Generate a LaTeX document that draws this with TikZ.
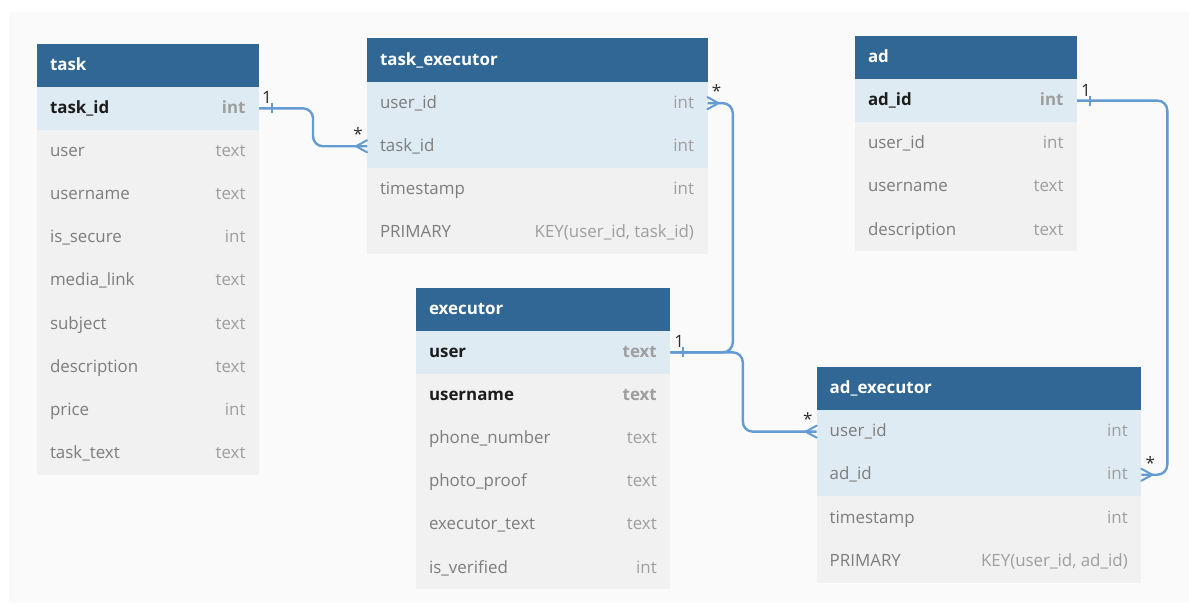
\documentclass[tikz,border=0pt]{standalone}
\usepackage{fontspec}
\setmainfont{Open Sans}
\definecolor{hdrblue}{RGB}{49,103,148}
\definecolor{keyblue}{RGB}{222,235,243}
\definecolor{rowgray}{RGB}{241,241,241}
\definecolor{canvas}{RGB}{250,250,250}
\definecolor{relblue}{RGB}{99,155,210}
\definecolor{pkblack}{RGB}{28,28,28}
\definecolor{namegray}{RGB}{125,125,125}
\definecolor{typegray}{RGB}{158,158,158}
\definecolor{cardgray}{RGB}{45,45,45}
\newcommand\fieldfont{\fontsize{16.9}{20}\selectfont}
\tikzset{
  every node/.style={inner sep=0pt, outer sep=0pt},
  hdr/.style={fill=hdrblue, minimum height=43.3pt},
  keyrow/.style={fill=keyblue, minimum height=43.1pt},
  plainrow/.style={fill=rowgray, minimum height=43.1pt},
  hdrtext/.style={text=white, font=\fieldfont\bfseries, anchor=mid west},
  pkname/.style={text=pkblack, font=\fieldfont\bfseries, anchor=mid west},
  pktype/.style={text=typegray, font=\fieldfont\bfseries, anchor=mid east},
  plname/.style={text=namegray, font=\fieldfont, anchor=mid west},
  pltype/.style={text=typegray, font=\fieldfont, anchor=mid east},
  rel/.style={draw=relblue, line width=2.4pt},
  relfoot/.style={draw=relblue, line width=2pt, line cap=round, line join=round},
  card/.style={text=cardgray, font=\fontsize{17}{20}\selectfont},
}
% table header: node, x, y, width, title
\newcommand\ehead[5]{%
  \node[hdr, minimum width=#4, anchor=north west] (#1) at (#2,#3) {};
  \node[hdrtext] (#1-n) at ([xshift=13pt,yshift=-2.5pt]#1.west) {#5};}
% table row: node, node above, width, fill style, text kind (pk/pl), field, type
\newcommand\erow[7]{%
  \node[#4, minimum width=#3, anchor=north west] (#1) at (#2.south west) {};
  \node[#5name] (#1-n) at ([xshift=13pt,yshift=-2.5pt]#1.west) {#6};
  \node[#5type] (#1-t) at ([xshift=-13.5pt,yshift=-2.5pt]#1.east) {#7};}
% "many" end touching a west or an east side
\newcommand\crowW[1]{\draw[relfoot] ([yshift=6pt]#1) -- ([xshift=-11pt]#1) -- ([yshift=-6pt]#1);}
\newcommand\crowE[1]{\draw[relfoot] ([yshift=6pt]#1) -- ([xshift=11pt]#1) -- ([yshift=-6pt]#1);}
% "one" end bar on an east side
\newcommand\onebar[1]{\draw[relfoot, line cap=butt] ([xshift=12.5pt,yshift=5pt]#1) -- ([xshift=12.5pt,yshift=-5pt]#1);}
\begin{document}
\begin{tikzpicture}[x=1pt, y=-1pt]
\useasboundingbox (0,0) rectangle (1189,603);
\fill[white] (0,0) rectangle (1189,603);
\fill[canvas] (9,12) rectangle (1189,603);

% task
\ehead{task}{37}{43.5}{222pt}{task}
\erow{task-1}{task}{222pt}{keyrow}{pk}{task\_id}{int}
\erow{task-2}{task-1}{222pt}{plainrow}{pl}{user}{text}
\erow{task-3}{task-2}{222pt}{plainrow}{pl}{username}{text}
\erow{task-4}{task-3}{222pt}{plainrow}{pl}{is\_secure}{int}
\erow{task-5}{task-4}{222pt}{plainrow}{pl}{media\_link}{text}
\erow{task-6}{task-5}{222pt}{plainrow}{pl}{subject}{text}
\erow{task-7}{task-6}{222pt}{plainrow}{pl}{description}{text}
\erow{task-8}{task-7}{222pt}{plainrow}{pl}{price}{int}
\erow{task-9}{task-8}{222pt}{plainrow}{pl}{task\_text}{text}

% task_executor
\ehead{te}{367}{38.3}{340.5pt}{task\_executor}
\erow{te-1}{te}{340.5pt}{keyrow}{pl}{user\_id}{int}
\erow{te-2}{te-1}{340.5pt}{keyrow}{pl}{task\_id}{int}
\erow{te-3}{te-2}{340.5pt}{plainrow}{pl}{timestamp}{int}
\erow{te-4}{te-3}{340.5pt}{plainrow}{pl}{PRIMARY}{KEY(user\_id, task\_id)}

% ad
\ehead{ad}{855}{35.7}{222pt}{ad}
\erow{ad-1}{ad}{222pt}{keyrow}{pk}{ad\_id}{int}
\erow{ad-2}{ad-1}{222pt}{plainrow}{pl}{user\_id}{int}
\erow{ad-3}{ad-2}{222pt}{plainrow}{pl}{username}{text}
\erow{ad-4}{ad-3}{222pt}{plainrow}{pl}{description}{text}

% executor
\ehead{ex}{416}{287.5}{254.3pt}{executor}
\erow{ex-1}{ex}{254.3pt}{keyrow}{pk}{user}{text}
\erow{ex-2}{ex-1}{254.3pt}{plainrow}{pk}{username}{text}
\erow{ex-3}{ex-2}{254.3pt}{plainrow}{pl}{phone\_number}{text}
\erow{ex-4}{ex-3}{254.3pt}{plainrow}{pl}{photo\_proof}{text}
\erow{ex-5}{ex-4}{254.3pt}{plainrow}{pl}{executor\_text}{text}
\erow{ex-6}{ex-5}{254.3pt}{plainrow}{pl}{is\_verified}{int}

% ad_executor
\ehead{ae}{816.7}{366.8}{324.6pt}{ad\_executor}
\erow{ae-1}{ae}{324.6pt}{keyrow}{pl}{user\_id}{int}
\erow{ae-2}{ae-1}{324.6pt}{keyrow}{pl}{ad\_id}{int}
\erow{ae-3}{ae-2}{324.6pt}{plainrow}{pl}{timestamp}{int}
\erow{ae-4}{ae-3}{324.6pt}{plainrow}{pl}{PRIMARY}{KEY(user\_id, ad\_id)}

% relations
\draw[rel, rounded corners=10pt] (task-1.east) -- ++(54,0) |- (te-2.west);
\draw[rel, rounded corners=10pt] (ex-1.east) -- ++(62.5,0) |- (te-1.east);
\draw[rel, rounded corners=10pt] (ex-1.east) -- ++(72.5,0) |- (ae-1.west);
\draw[rel, rounded corners=10pt] (ad-1.east) -- ++(90.3,0) |- (ae-2.east);

\onebar{task-1.east}
\onebar{ex-1.east}
\onebar{ad-1.east}
\crowW{te-2.west}
\crowE{te-1.east}
\crowW{ae-1.west}
\crowE{ae-2.east}

% cardinalities
\node[card] (c1) at ([xshift=8pt,yshift=11pt]task-1.east) {1};
\node[card] (c2) at ([xshift=-9pt,yshift=12pt]te-2.west) {*};
\node[card] (c3) at ([xshift=9pt,yshift=12pt]te-1.east) {*};
\node[card] (c4) at ([xshift=9pt,yshift=11pt]ex-1.east) {1};
\node[card] (c5) at ([xshift=-9pt,yshift=13pt]ae-1.west) {*};
\node[card] (c6) at ([xshift=9pt,yshift=10pt]ad-1.east) {1};
\node[card] (c7) at ([xshift=9pt,yshift=12pt]ae-2.east) {*};
\end{tikzpicture}
\end{document}
